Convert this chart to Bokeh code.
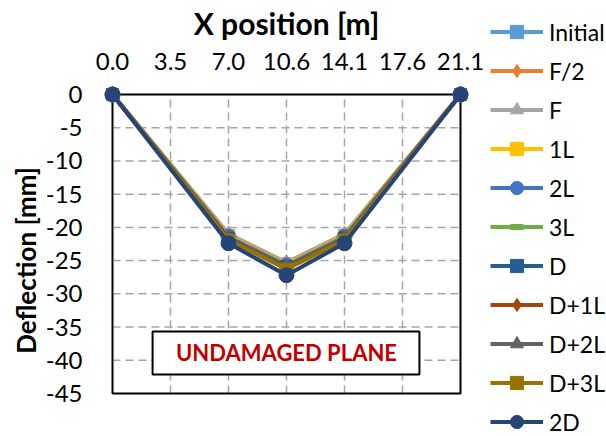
import math
from bokeh.plotting import figure
from bokeh.models import Range1d, FixedTicker, Legend, LegendItem, BoxAnnotation, Label
from bokeh.embed import file_html
from bokeh.resources import INLINE

# ---------------- data ----------------
x_ticks = [0.0, 3.5167, 7.0333, 10.55, 14.0667, 17.5833, 21.1]
x_tick_labels = ["0.0", "3.5", "7.0", "10.6", "14.1", "17.6", "21.1"]
y_ticks = [0, -5, -10, -15, -20, -25, -30, -35, -40, -45]
y_tick_labels = ["0", "-5", "-10", "-15", "-20", "-25", "-30", "-35", "-40", "-45"]
x_pos = [0.0, 7.0333, 10.55, 14.0667, 21.1]

series_names = ["Initial", "F/2", "F", "1L", "2L", "3L", "D", "D+1L", "D+2L", "D+3L", "2D"]
initial = [0, -21.2, -25.5, -21.2, 0]
f_half = [0, -21.0, -25.3, -21.0, 0]
f_full = [0, -21.1, -25.4, -21.1, 0]
l1 = [0, -21.3, -25.6, -21.3, 0]
l2 = [0, -21.4, -25.7, -21.4, 0]
l3 = [0, -21.5, -25.8, -21.5, 0]
d = [0, -21.6, -25.9, -21.6, 0]
d_l1 = [0, -21.7, -26.0, -21.7, 0]
d_l2 = [0, -21.8, -26.1, -21.8, 0]
d_l3 = [0, -21.9, -26.3, -21.9, 0]
d2 = [0, -22.4, -27.2, -22.4, 0]
series_values = [initial, f_half, f_full, l1, l2, l3, d, d_l1, d_l2, d_l3, d2]

colors = ["#5B9BD5", "#ED7D31", "#A5A5A5", "#FFC000", "#4472C4", "#70AD47",
          "#255E91", "#9E480E", "#636363", "#997300", "#264478"]
markers = ["square", "diamond", "triangle", "square", "circle", "dash",
           "square", "diamond", "triangle", "square", "circle"]
marker_sizes = {"square": 12, "diamond": 16, "triangle": 14, "circle": 15, "dash": 15}

x_title = "X position [m]"
y_title = "Deflection [mm]"
note_text = "UNDAMAGED PLANE"

# ---------------- layout ----------------
FONT = "Lato"
W, H = 606, 436
box_left, box_top, box_w_px, box_h_px = 112, 94, 348, 299
x_min, x_max = x_ticks[0], x_ticks[-1]
y_max, y_min = y_ticks[0], y_ticks[-1]
ppx = box_w_px / (x_max - x_min)
ppy = box_h_px / (y_max - y_min)
x_start = x_min - box_left / ppx
y_end = y_max + box_top / ppy

# the frame covers the whole canvas; axes are drawn at fixed data locations
p = figure(width=W, height=H, output_backend="svg", toolbar_location=None,
           x_axis_location="above",
           x_range=Range1d(x_start, x_start + W / ppx),
           y_range=Range1d(y_end - H / ppy, y_end),
           min_border_left=0, min_border_top=0, min_border_right=0, min_border_bottom=0)
p.outline_line_color = None
p.grid.visible = False
p.background_fill_color = "white"
p.border_fill_color = "white"

# x axis
xa = p.xaxis[0]
xa.fixed_location = y_max
xa.ticker = FixedTicker(ticks=x_ticks)
xa.major_label_overrides = {t: lab for t, lab in zip(x_ticks, x_tick_labels)}
xa.axis_line_color = None
xa.major_tick_line_color = None
xa.minor_tick_line_color = None
xa.major_label_standoff = 19
xa.major_label_text_font = FONT
xa.major_label_text_font_size = "24px"
xa.major_label_text_color = "black"

# y axis
ya = p.yaxis[0]
ya.fixed_location = x_min
ya.ticker = FixedTicker(ticks=y_ticks)
ya.major_label_overrides = {t: lab for t, lab in zip(y_ticks, y_tick_labels)}
ya.axis_line_color = None
ya.major_tick_line_color = None
ya.minor_tick_line_color = None
ya.major_label_standoff = 24
ya.major_label_text_font = FONT
ya.major_label_text_font_size = "24px"
ya.major_label_text_color = "black"

# axis titles
p.add_layout(Label(x=box_left + box_w_px / 2, y=H - 22, x_units="screen", y_units="screen",
                   text=x_title, text_align="center", text_baseline="middle",
                   text_font=FONT, text_font_style="bold", text_font_size="30px",
                   text_color="black"))
p.add_layout(Label(x=25, y=H - 260, x_units="screen", y_units="screen", angle=math.pi / 2,
                   text=y_title, text_align="center", text_baseline="middle",
                   text_font=FONT, text_font_style="bold", text_font_size="26px",
                   text_color="black"))

# grid (dashed)
inner_x = x_ticks[1:-1]
inner_y = y_ticks[1:-1]
p.segment(x0=inner_x, x1=inner_x, y0=[y_min] * len(inner_x), y1=[y_max] * len(inner_x),
          line_color="#A6A6A6", line_width=1.5, line_dash="8 5")
p.segment(x0=[x_min] * len(inner_y), x1=[x_max] * len(inner_y), y0=inner_y, y1=inner_y,
          line_color="#A6A6A6", line_width=1.5, line_dash="8 5")

# plot-area frame
p.line(x=[x_min, x_max, x_max, x_min, x_min], y=[y_max, y_max, y_min, y_min, y_max],
       line_color="black", line_width=2)

items = []
for name, vals, col, mk in zip(series_names, series_values, colors, markers):
    lr = p.line(x=x_pos, y=vals, line_color=col, line_width=4)
    if mk == "dash":
        sr = p.scatter(x=x_pos, y=vals, marker=mk, size=marker_sizes[mk],
                       line_color=col, line_width=6)
    else:
        sr = p.scatter(x=x_pos, y=vals, marker=mk, size=marker_sizes[mk],
                       fill_color=col, line_color=col, line_width=1)
    items.append(LegendItem(label=name, renderers=[lr, sr]))

legend = Legend(items=items, location=(490, -2), padding=0, margin=0, spacing=6,
                glyph_width=53, glyph_height=33, label_height=33, label_standoff=6,
                label_text_font=FONT, label_text_font_size="23px",
                label_text_color="black",
                border_line_color=None, background_fill_alpha=0)
p.add_layout(legend)

# annotation box
box = BoxAnnotation(left=2.43, right=18.61, top=-35.67, bottom=-42.14,
                    fill_color="white", fill_alpha=1.0,
                    line_color="black", line_alpha=1.0, line_width=2)
p.add_layout(box)
p.add_layout(Label(x=(x_min + x_max) / 2, y=-38.9, text=note_text, text_align="center",
                   text_baseline="middle", text_color="#C00000", text_font=FONT,
                   text_font_style="bold", text_font_size="22px"))

open("out.html", "w").write(file_html(p, INLINE))
